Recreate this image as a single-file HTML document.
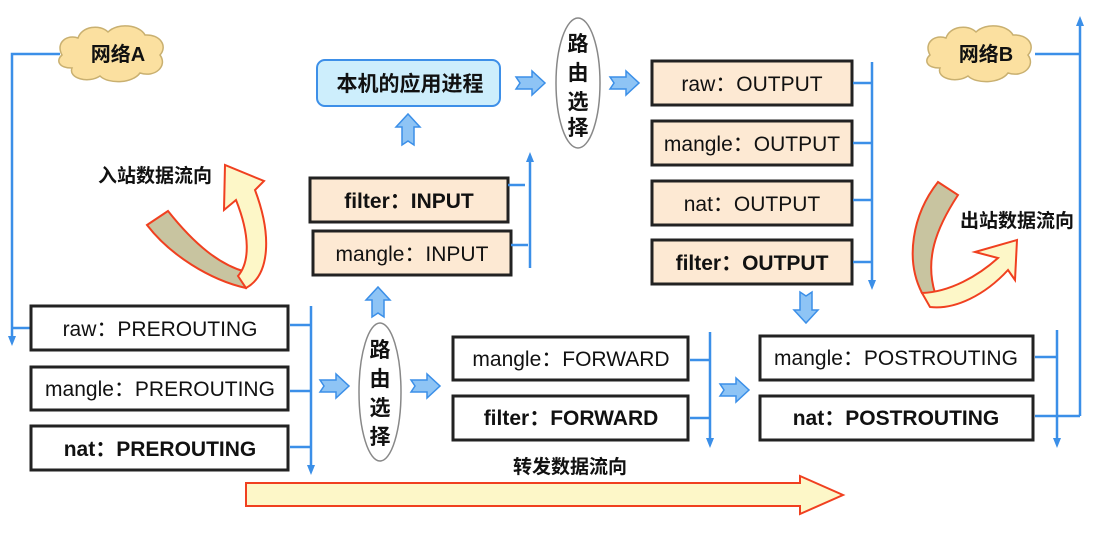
<!DOCTYPE html>
<html><head><meta charset="utf-8"><style>
body{margin:0;background:#fff;}
svg{display:block;font-family:"Liberation Sans","Noto Sans CJK SC",sans-serif;}
.pe{fill:#fde9d3;stroke:#222;stroke-width:3;}
.wh{fill:#fff;stroke:#222;stroke-width:3;}
.ln{stroke:#3b8fe8;stroke-width:2.5;fill:none;}
.t{font-size:21px;fill:#111;text-anchor:middle;}
.b{font-weight:bold;}
.ba{fill:#8ec4f5;stroke:#3b8fe8;stroke-width:1.5;}
.cl{fill:#fbe0a0;stroke:#c9b070;stroke-width:1.5;}
.lb{font-size:19px;}
</style></head><body>
<svg width="1100" height="552" viewBox="0 0 1100 552">
<!-- left line -->
<path class="ln" d="M60,54 H12 V338"/><path d="M8,336 L16,336 L12,346 Z" fill="#3b8fe8"/>
<path class="ln" d="M12,328 H31"/>
<!-- right line -->
<path class="ln" d="M1035,54 H1080 M1080,416 V24 M1035,416 H1080"/><path d="M1076,26 L1084,26 L1080,16 Z" fill="#3b8fe8"/>
<!-- clouds -->
<path class="cl" d="M62,55 C55,42 68,34 78,38 C82,26 100,24 108,32 C118,22 140,25 145,35 C160,34 168,46 160,55 C168,66 155,78 140,73 C132,84 108,84 100,76 C88,84 68,78 72,68 C58,68 56,60 62,55 Z"/>
<text class="t b" x="118" y="61" style="font-size:20px">网络A</text>
<path class="cl" d="M930,55 C923,42 936,34 946,38 C950,26 968,24 976,32 C986,22 1008,25 1013,35 C1028,34 1036,46 1028,55 C1036,66 1023,78 1008,73 C1000,84 976,84 968,76 C956,84 936,78 940,68 C926,68 924,60 930,55 Z"/>
<text class="t b" x="986" y="61" style="font-size:20px">网络B</text>
<!-- PREROUTING -->
<rect class="wh" x="31" y="306" width="257" height="44"/><text class="t" x="160" y="336">raw：PREROUTING</text>
<rect class="wh" x="31" y="367" width="257" height="43"/><text class="t" x="160" y="396">mangle：PREROUTING</text>
<rect class="wh" x="31" y="426" width="257" height="44"/><text class="t b" x="160" y="456">nat：PREROUTING</text>
<path class="ln" d="M311,306 V466 M290,325 H311 M290,391 H311 M290,447 H311"/><path d="M307,465 L315,465 L311,475 Z" fill="#3b8fe8"/>
<!-- block arrows right -->
<path class="ba" d="M320,380 H336 V374 L349,386 L336,398 V392 H320 L324,386 Z"/>
<path class="ba" d="M411,380 H427 V374 L440,386 L427,398 V392 H411 L415,386 Z"/>
<path class="ba" d="M720,384 H736 V378 L749,390 L736,402 V396 H720 L724,390 Z"/>
<path class="ba" d="M516,77 H532 V71 L545,83 L532,95 V89 H516 L520,83 Z"/>
<path class="ba" d="M610,77 H626 V71 L639,83 L626,95 V89 H610 L614,83 Z"/>
<!-- up arrows -->
<path class="ba" d="M372,317 V300 H366 L378,287 L390,300 H384 V317 L378,313 Z"/>
<path class="ba" d="M402,145 V127 H396 L408,114 L420,127 H414 V145 L408,141 Z"/>
<!-- down arrow -->
<path class="ba" d="M800,292 V310 H794 L806,323 L818,310 H812 V292 L806,296 Z"/>
<!-- ellipses -->
<ellipse cx="380" cy="392" rx="21" ry="69" fill="#fff" stroke="#888" stroke-width="1.5"/>
<text class="t b" x="380" y="357">路</text><text class="t b" x="380" y="386">由</text><text class="t b" x="380" y="415">选</text><text class="t b" x="380" y="444">择</text>
<ellipse cx="578" cy="83" rx="22" ry="65" fill="#fff" stroke="#888" stroke-width="1.5"/>
<text class="t b" x="578" y="51">路</text><text class="t b" x="578" y="80">由</text><text class="t b" x="578" y="109">选</text><text class="t b" x="578" y="135">择</text>
<!-- FORWARD -->
<rect class="wh" x="453" y="337" width="235" height="43"/><text class="t" x="571" y="366">mangle：FORWARD</text>
<rect class="wh" x="453" y="396" width="235" height="44"/><text class="t b" x="571" y="425">filter：FORWARD</text>
<path class="ln" d="M710,332 V440 M690,360 H710 M690,418 H710"/><path d="M706,438 L714,438 L710,448 Z" fill="#3b8fe8"/>
<!-- POSTROUTING -->
<rect class="wh" x="760" y="336" width="273" height="44"/><text class="t" x="896" y="365">mangle：POSTROUTING</text>
<rect class="wh" x="760" y="396" width="273" height="44"/><text class="t b" x="896" y="425">nat：POSTROUTING</text>
<path class="ln" d="M1057,330 V440 M1035,357 H1057"/><path d="M1053,438 L1061,438 L1057,448 Z" fill="#3b8fe8"/>
<!-- forward label and big arrow -->
<text class="t b lb" x="570" y="473">转发数据流向</text>
<path d="M246,483 H800 V476 L843,495 L800,514 V506 H246 Z" fill="#fdf7c8" stroke="#f04020" stroke-width="2"/>
<!-- INPUT -->
<rect class="pe" x="310" y="178" width="198" height="44"/><text class="t b" x="409" y="208">filter：INPUT</text>
<rect class="pe" x="313" y="231" width="198" height="44"/><text class="t" x="412" y="261">mangle：INPUT</text>
<path class="ln" d="M530,268 V160 M508,185 H525 M511,245 H528"/><path d="M526,162 L534,162 L530,152 Z" fill="#3b8fe8"/>
<!-- app box -->
<rect x="317" y="60" width="183" height="46" rx="8" fill="#cdeefc" stroke="#3d8fe8" stroke-width="2"/>
<text class="t b" x="410" y="91">本机的应用进程</text>
<!-- OUTPUT -->
<rect class="pe" x="652" y="61" width="200" height="44"/><text class="t" x="752" y="91">raw：OUTPUT</text>
<rect class="pe" x="652" y="121" width="200" height="44"/><text class="t" x="752" y="151">mangle：OUTPUT</text>
<rect class="pe" x="652" y="181" width="200" height="44"/><text class="t" x="752" y="211">nat：OUTPUT</text>
<rect class="pe" x="652" y="240" width="200" height="44"/><text class="t b" x="752" y="270">filter：OUTPUT</text>
<path class="ln" d="M872,62 V282 M853,83 H872 M853,143 H872 M853,200 H872 M853,262 H872"/><path d="M868,280 L876,280 L872,290 Z" fill="#3b8fe8"/>
<!-- left curved arrow -->
<text class="t b lb" x="155" y="182">入站数据流向</text>
<path d="M147,225 L168,211 C195,245 220,265 246,272 L246,288 C210,280 170,255 147,225 Z" fill="#c8c4a0" stroke="#f04020" stroke-width="2"/>
<path d="M246,288 C270,275 272,235 255,190 L264,181 L225,165 L224,210 L236,200 C250,235 250,262 238,276 Z" fill="#fdf7c8" stroke="#f04020" stroke-width="2"/>
<!-- right curved arrow -->
<text class="t b lb" x="1017" y="227">出站数据流向</text>
<path d="M938,182 L958,195 C935,230 925,260 935,293 L922,293 C905,260 912,215 938,182 Z" fill="#c8c4a0" stroke="#f04020" stroke-width="2"/>
<path d="M922,293 C950,292 978,276 998,258 L975,252 L1017,240 L1015,280 L1008,270 C985,295 955,310 930,307 Z" fill="#fdf7c8" stroke="#f04020" stroke-width="2"/>
</svg>
</body></html>
